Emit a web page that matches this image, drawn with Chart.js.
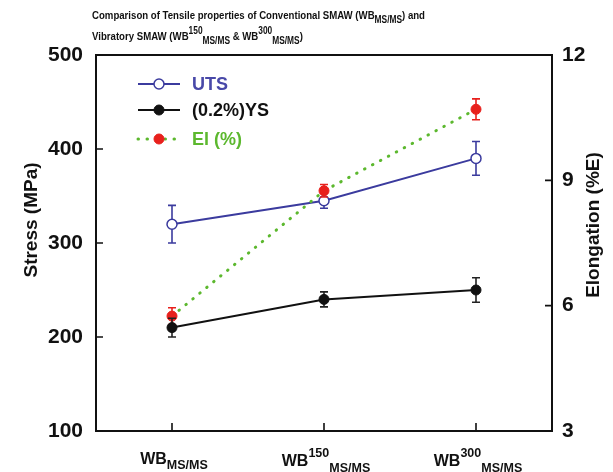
<!DOCTYPE html>
<html><head><meta charset="utf-8">
<script src="https://cdn.jsdelivr.net/npm/chart.js@4/dist/chart.umd.min.js"></script>
<style>html,body{margin:0;padding:0;background:#fff}canvas{display:block}</style>
</head><body>
<canvas id="c" width="613" height="472"></canvas>
<script>
// ---- data ----
const categories = ['WB MS/MS', 'WB150 MS/MS', 'WB300 MS/MS'];
const categoryBase = ['WB', 'WB', 'WB'];
const categorySup = ['', '150', '300'];
const categorySub = ['MS/MS', 'MS/MS', 'MS/MS'];
const utsValues = [320, 345, 390];
const utsErrors = [20, 8, 18];
const ysValues = [210, 240, 250];
const ysErrors = [10, 8, 13];
const elValues = [5.75, 8.75, 10.7];
const elErrors = [0.2, 0.15, 0.25];
const stressTicks = [100, 200, 300, 400, 500];
const elongTicks = [3, 6, 9, 12];
const seriesNames = ['UTS', '(0.2%)YS', 'El (%)'];
const titleLine1 = [['Comparison of Tensile properties of Conventional SMAW (WB', 0], ['MS/MS', 1], [') and', 0]];
const titleLine2 = [['Vibratory SMAW (WB', 0], ['150', 2], ['MS/MS', 1], [' & WB', 0], ['300', 2], ['MS/MS', 1], [')', 0]];

const FONT = "'Liberation Sans', Arial, sans-serif";
const BLUE = '#3b3b9e', BLUE_T = '#4848a8', BLACK = '#111111', GREEN = '#5cb82e', RED = '#e8201c';

const custom = {
  id: 'custom',
  beforeDatasetDraw(chart, args) {
    const ds = chart.data.datasets[args.index];
    const meta = chart.getDatasetMeta(args.index);
    const sc = chart.scales[ds.yAxisID];
    const ctx = chart.ctx;
    ctx.save();
    ctx.strokeStyle = ds.errorColor; ctx.lineWidth = 1.6;
    meta.data.forEach((pt, j) => {
      const v = ds.data[j], e = ds.errors[j];
      const yt = sc.getPixelForValue(v + e), yb = sc.getPixelForValue(v - e), x = pt.x;
      ctx.beginPath();
      ctx.moveTo(x, yt); ctx.lineTo(x, yb);
      ctx.moveTo(x - 4, yt); ctx.lineTo(x + 4, yt);
      ctx.moveTo(x - 4, yb); ctx.lineTo(x + 4, yb);
      ctx.stroke();
    });
    ctx.restore();
  },
  afterDraw(chart) {
    const ctx = chart.ctx, a = chart.chartArea;
    const xs = chart.scales.x, y = chart.scales.y, y1 = chart.scales.y1;
    ctx.save();
    // frame
    ctx.strokeStyle = BLACK; ctx.lineWidth = 2;
    ctx.strokeRect(a.left, a.top, a.right - a.left, a.bottom - a.top);
    // inward ticks
    ctx.lineWidth = 1.6;
    ctx.beginPath();
    y.ticks.forEach((t, i) => { const p = y.getPixelForTick(i); ctx.moveTo(a.left, p); ctx.lineTo(a.left + 7, p); });
    y1.ticks.forEach((t, i) => { const p = y1.getPixelForTick(i); ctx.moveTo(a.right, p); ctx.lineTo(a.right - 7, p); });
    xs.ticks.forEach((t, i) => { const p = xs.getPixelForTick(i); ctx.moveTo(p, a.bottom); ctx.lineTo(p, a.bottom - 8); });
    ctx.stroke();
    // x labels with sup/sub
    ctx.fillStyle = BLACK; ctx.textBaseline = 'alphabetic'; ctx.textAlign = 'left';
    const bf = 'bold 16px ' + FONT, sf = 'bold 12.5px ' + FONT;
    xs.ticks.forEach((t, i) => {
      const p = xs.getPixelForTick(i);
      ctx.font = bf; const wb = ctx.measureText(categoryBase[i]).width;
      ctx.font = sf; const wsup = categorySup[i] ? ctx.measureText(categorySup[i]).width : 0;
      const wsub = ctx.measureText(categorySub[i]).width;
      let x = p - (wb + wsup + wsub) / 2 + 2;
      const base = categorySup[i] ? 466 : 464;
      ctx.font = bf; ctx.fillText(categoryBase[i], x, base); x += wb;
      ctx.font = sf;
      if (categorySup[i]) { ctx.fillText(categorySup[i], x, base - 9); x += wsup; }
      ctx.fillText(categorySub[i], x, base + (categorySup[i] ? 6 : 5));
    });
    // axis titles
    ctx.font = 'bold 19px ' + FONT; ctx.textAlign = 'center'; ctx.textBaseline = 'middle';
    ctx.save(); ctx.translate(32, 220); ctx.rotate(-Math.PI / 2); ctx.fillText('Stress (MPa)', 0, 0); ctx.restore();
    ctx.save(); ctx.translate(594, 225); ctx.rotate(-Math.PI / 2); ctx.fillText('Elongation (%E)', 0, 0); ctx.restore();
    // title (condensed bold)
    const partFont = k => 'bold ' + (k ? 10 : 11.5) + 'px ' + FONT;
    const richWidth = parts => parts.reduce((w, [t, k]) => { ctx.font = partFont(k); return w + ctx.measureText(t).width; }, 0);
    const sx = 333 / richWidth(titleLine1);
    const drawRich = (parts, x0, base) => {
      ctx.save();
      ctx.translate(x0, 0); ctx.scale(sx, 1);
      ctx.textAlign = 'left'; ctx.textBaseline = 'alphabetic'; ctx.fillStyle = BLACK;
      let x = 0;
      parts.forEach(([t, k]) => {
        ctx.font = partFont(k);
        const dy = k === 1 ? 4 : (k === 2 ? -6.5 : 0);
        ctx.fillText(t, x, base + dy); x += ctx.measureText(t).width;
      });
      ctx.restore();
    };
    drawRich(titleLine1, 92, 18.5);
    drawRich(titleLine2, 92, 40);
    // legend
    const ds = chart.data.datasets;
    const rows = [84, 110, 139];
    const textColors = [BLUE_T, BLACK, GREEN];
    rows.forEach((ry, i) => {
      const d = ds[i];
      ctx.save();
      ctx.strokeStyle = d.borderColor; ctx.lineWidth = d.borderWidth;
      if (d.borderDash) { ctx.setLineDash(d.borderDash); ctx.lineCap = 'round'; }
      ctx.beginPath(); ctx.moveTo(138, ry); ctx.lineTo(180, ry); ctx.stroke();
      ctx.setLineDash([]);
      ctx.beginPath(); ctx.arc(159, ry, d.pointRadius, 0, Math.PI * 2);
      ctx.fillStyle = d.pointBackgroundColor; ctx.fill();
      ctx.lineWidth = d.pointBorderWidth; ctx.strokeStyle = d.pointBorderColor; ctx.stroke();
      ctx.restore();
      ctx.font = 'bold 18px ' + FONT; ctx.fillStyle = textColors[i];
      ctx.textAlign = 'left'; ctx.textBaseline = 'middle';
      ctx.fillText(seriesNames[i], 192, ry + 1);
    });
    ctx.restore();
  }
};

new Chart(document.getElementById('c'), {
  type: 'line',
  data: {
    labels: categories,
    datasets: [
      { label: seriesNames[0], data: utsValues, errors: utsErrors, errorColor: BLUE, yAxisID: 'y',
        borderColor: BLUE, borderWidth: 2, pointRadius: 5, pointBackgroundColor: '#ffffff',
        pointBorderColor: BLUE, pointBorderWidth: 1.5, order: 2, tension: 0 },
      { label: seriesNames[1], data: ysValues, errors: ysErrors, errorColor: '#222', yAxisID: 'y',
        borderColor: BLACK, borderWidth: 2, pointRadius: 5, pointBackgroundColor: BLACK,
        pointBorderColor: BLACK, pointBorderWidth: 1, order: 0, tension: 0 },
      { label: seriesNames[2], data: elValues, errors: elErrors, errorColor: RED, yAxisID: 'y1',
        borderColor: GREEN, borderWidth: 3, borderDash: [0.5, 8.5], borderCapStyle: 'round', pointRadius: 5,
        pointBackgroundColor: RED, pointBorderColor: RED, pointBorderWidth: 1, order: 1, tension: 0 }
    ]
  },
  options: {
    responsive: false, animation: false, devicePixelRatio: 1,
    layout: { padding: { top: 55, left: 0, right: 0, bottom: 0 } },
    plugins: { legend: { display: false }, tooltip: { enabled: false }, title: { display: false } },
    scales: {
      x: { type: 'category', offset: true, grid: { display: false, drawTicks: false }, border: { display: false },
           ticks: { display: false }, afterFit(s) { s.height = 41; } },
      y: { position: 'left', min: stressTicks[0], max: stressTicks[stressTicks.length - 1],
           afterBuildTicks(s) { s.ticks = stressTicks.map(v => ({ value: v })); },
           grid: { display: false, drawTicks: false }, border: { display: false },
           ticks: { color: BLACK, padding: 13, font: { family: FONT, size: 21, weight: 'bold' } },
           afterFit(s) { s.width = 96; } },
      y1: { position: 'right', min: elongTicks[0], max: elongTicks[elongTicks.length - 1],
           afterBuildTicks(s) { s.ticks = elongTicks.map(v => ({ value: v })); },
           grid: { display: false, drawTicks: false }, border: { display: false },
           ticks: { color: BLACK, padding: 10, font: { family: FONT, size: 21, weight: 'bold' } },
           afterFit(s) { s.width = 61; } }
    }
  },
  plugins: [custom]
});
</script>
</body></html>
